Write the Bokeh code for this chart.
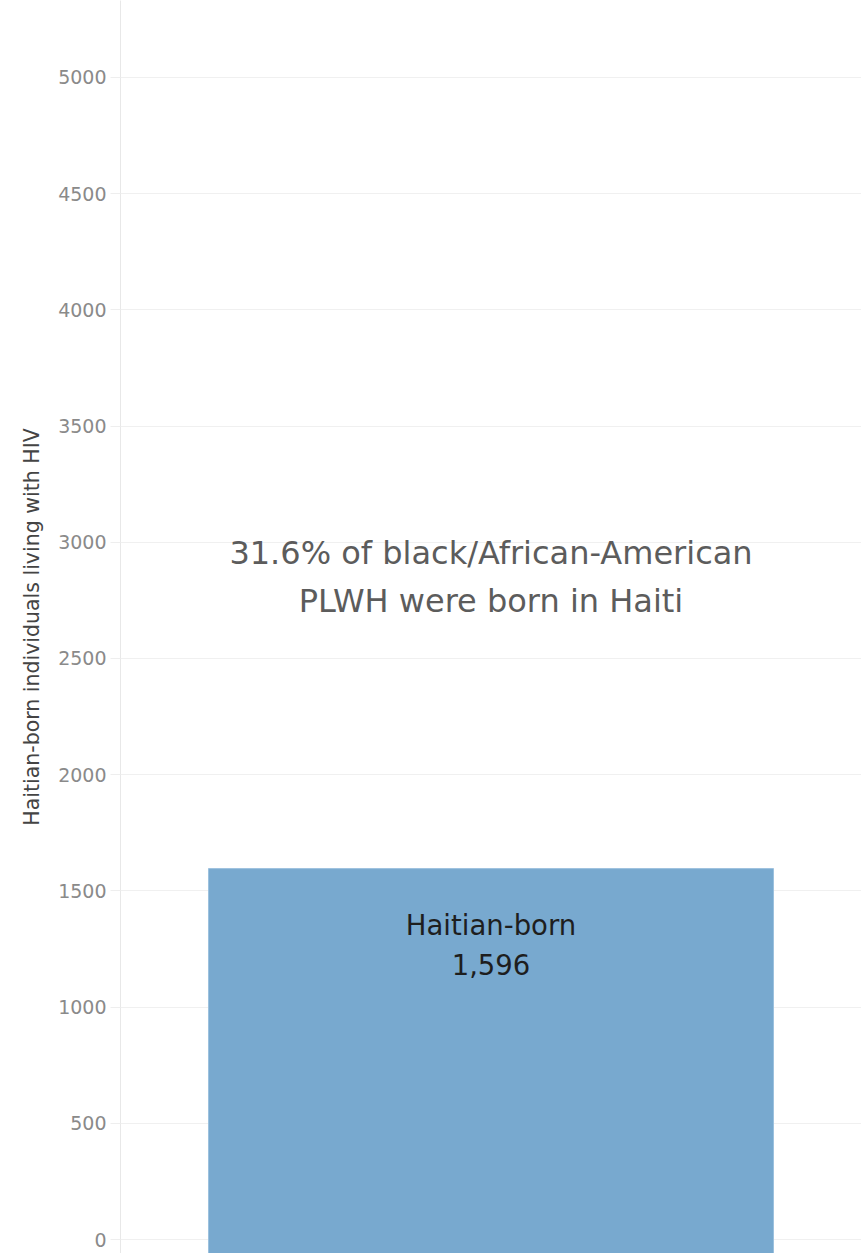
from bokeh.plotting import figure
from bokeh.models import FactorRange, Range1d, FixedTicker
from bokeh.core.properties import value
from bokeh.embed import file_html
from bokeh.resources import INLINE

# ---- data ----
categories = ["Haitian-born"]
counts = [1596]
y_ticks = [0, 500, 1000, 1500, 2000, 2500, 3000, 3500, 4000, 4500, 5000]
annotation = "31.6% of black/African-American\nPLWH were born in Haiti"
y_title = "Haitian-born individuals living with HIV"

# ---- layout / style ----
Y_START, Y_END = -60, 5331
ANNOT_Y = 2851
FONT = "DejaVu Sans"

p = figure(width=861, height=1253,
           x_range=FactorRange(*categories, range_padding=0),
           y_range=Range1d(Y_START, Y_END),
           output_backend="svg", toolbar_location=None,
           min_border_left=120, min_border_right=0,
           min_border_top=0, min_border_bottom=0)

p.outline_line_color = None
p.xaxis.visible = False
p.xgrid.grid_line_color = None

# bar runs to the bottom edge of the view, as in the original pane
p.vbar(x=categories, top=counts, bottom=Y_START, width=0.7625,
       fill_color="#78a9cf", line_color="#9cc1de", line_width=1)

labels = [f"{c:,}" for c in counts]
p.text(x=categories, y=counts, text=categories, y_offset=56,
       text_align="center", text_baseline="middle",
       text_font=value(FONT), text_font_size="27.5px", text_color="#1e1e1e")
p.text(x=categories, y=counts, text=labels, y_offset=96,
       text_align="center", text_baseline="middle",
       text_font=value(FONT), text_font_size="27.5px", text_color="#1e1e1e")

p.text(x=[categories[0]], y=[ANNOT_Y], text=[annotation],
       text_align="center", text_baseline="middle",
       text_font=value(FONT), text_font_size="32px",
       text_line_height=1.28, text_color="#5c5c5c")

ax = p.yaxis[0]
ax.ticker = FixedTicker(ticks=y_ticks)
ax.axis_label = y_title
ax.axis_label_text_font = FONT
ax.axis_label_text_font_size = "20.5px"
ax.axis_label_text_font_style = "normal"
ax.axis_label_text_color = "#444444"
ax.axis_label_standoff = 11
ax.major_label_text_font = FONT
ax.major_label_text_font_size = "19px"
ax.major_label_text_color = "#8a8a8a"
ax.major_label_standoff = 4
ax.axis_line_color = "#e8e8e8"
ax.major_tick_line_color = "#eeeeee"
ax.major_tick_out = 10
ax.major_tick_in = 0
ax.minor_tick_line_color = None

p.ygrid.ticker = FixedTicker(ticks=y_ticks)
p.ygrid.grid_line_color = "#f0f0f0"
p.ygrid.grid_line_width = 1

open("out.html", "w").write(file_html(p, INLINE))
